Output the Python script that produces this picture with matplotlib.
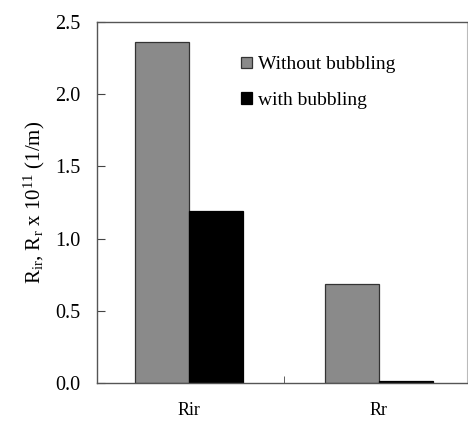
import matplotlib.pyplot as plt
import numpy as np

categories = ['Rir', 'Rr']
without_bubbling = [2.36, 0.685]
with_bubbling = [1.19, 0.012]
yticks = [0.0, 0.5, 1.0, 1.5, 2.0, 2.5]

plt.rcParams['font.family'] = ['Liberation Serif', 'DejaVu Serif']
plt.rcParams['mathtext.fontset'] = 'custom'
plt.rcParams['mathtext.rm'] = 'Liberation Serif'
plt.rcParams['mathtext.it'] = 'Liberation Serif'

fig = plt.figure(figsize=(4.68, 4.28), dpi=100)
ax = fig.add_axes([97 / 468, 1 - 383 / 428, 370 / 468, 361 / 428])

x = np.arange(len(categories))
w = 0.285
ax.bar(x - w / 2, without_bubbling, w, color='#8a8a8a', edgecolor='#333333',
       linewidth=0.9, label='Without bubbling')
ax.bar(x + w / 2, with_bubbling, w, color='black', edgecolor='black',
       linewidth=0.9, label='with bubbling')

ax.set_xlim(-0.484, 1.463)
ax.set_ylim(0, 2.5)
ax.set_yticks(yticks)
ax.set_yticklabels(['%.1f' % v for v in yticks])
ax.set_xticks(x)
ax.set_xticklabels(categories)
ax.set_xticks([0.5], minor=True)
ax.tick_params(axis='x', which='major', length=0, pad=14, labelsize=13)
ax.tick_params(axis='x', which='minor', direction='in', length=5, color='#444444')
ax.tick_params(axis='y', direction='in', length=6, pad=12, labelsize=14.5,
               color='#444444')

for s in ['left', 'bottom', 'top']:
    ax.spines[s].set_color('#555555')
    ax.spines[s].set_linewidth(1.0)
ax.spines['right'].set_color('#bbbbbb')

ax.set_ylabel(r'R$_{\mathrm{ir}}$, R$_{\mathrm{r}}$ x 10$^{\mathrm{11}}$ (1/m)',
              fontsize=15, labelpad=6)

ax.legend(loc='upper left', bbox_to_anchor=(0.39, 0.905), frameon=False,
          fontsize=14, handlelength=0.55, handleheight=0.55, handletextpad=0.3,
          labelspacing=0.95, borderpad=0, borderaxespad=0)

fig.savefig('out.png', dpi=100)
